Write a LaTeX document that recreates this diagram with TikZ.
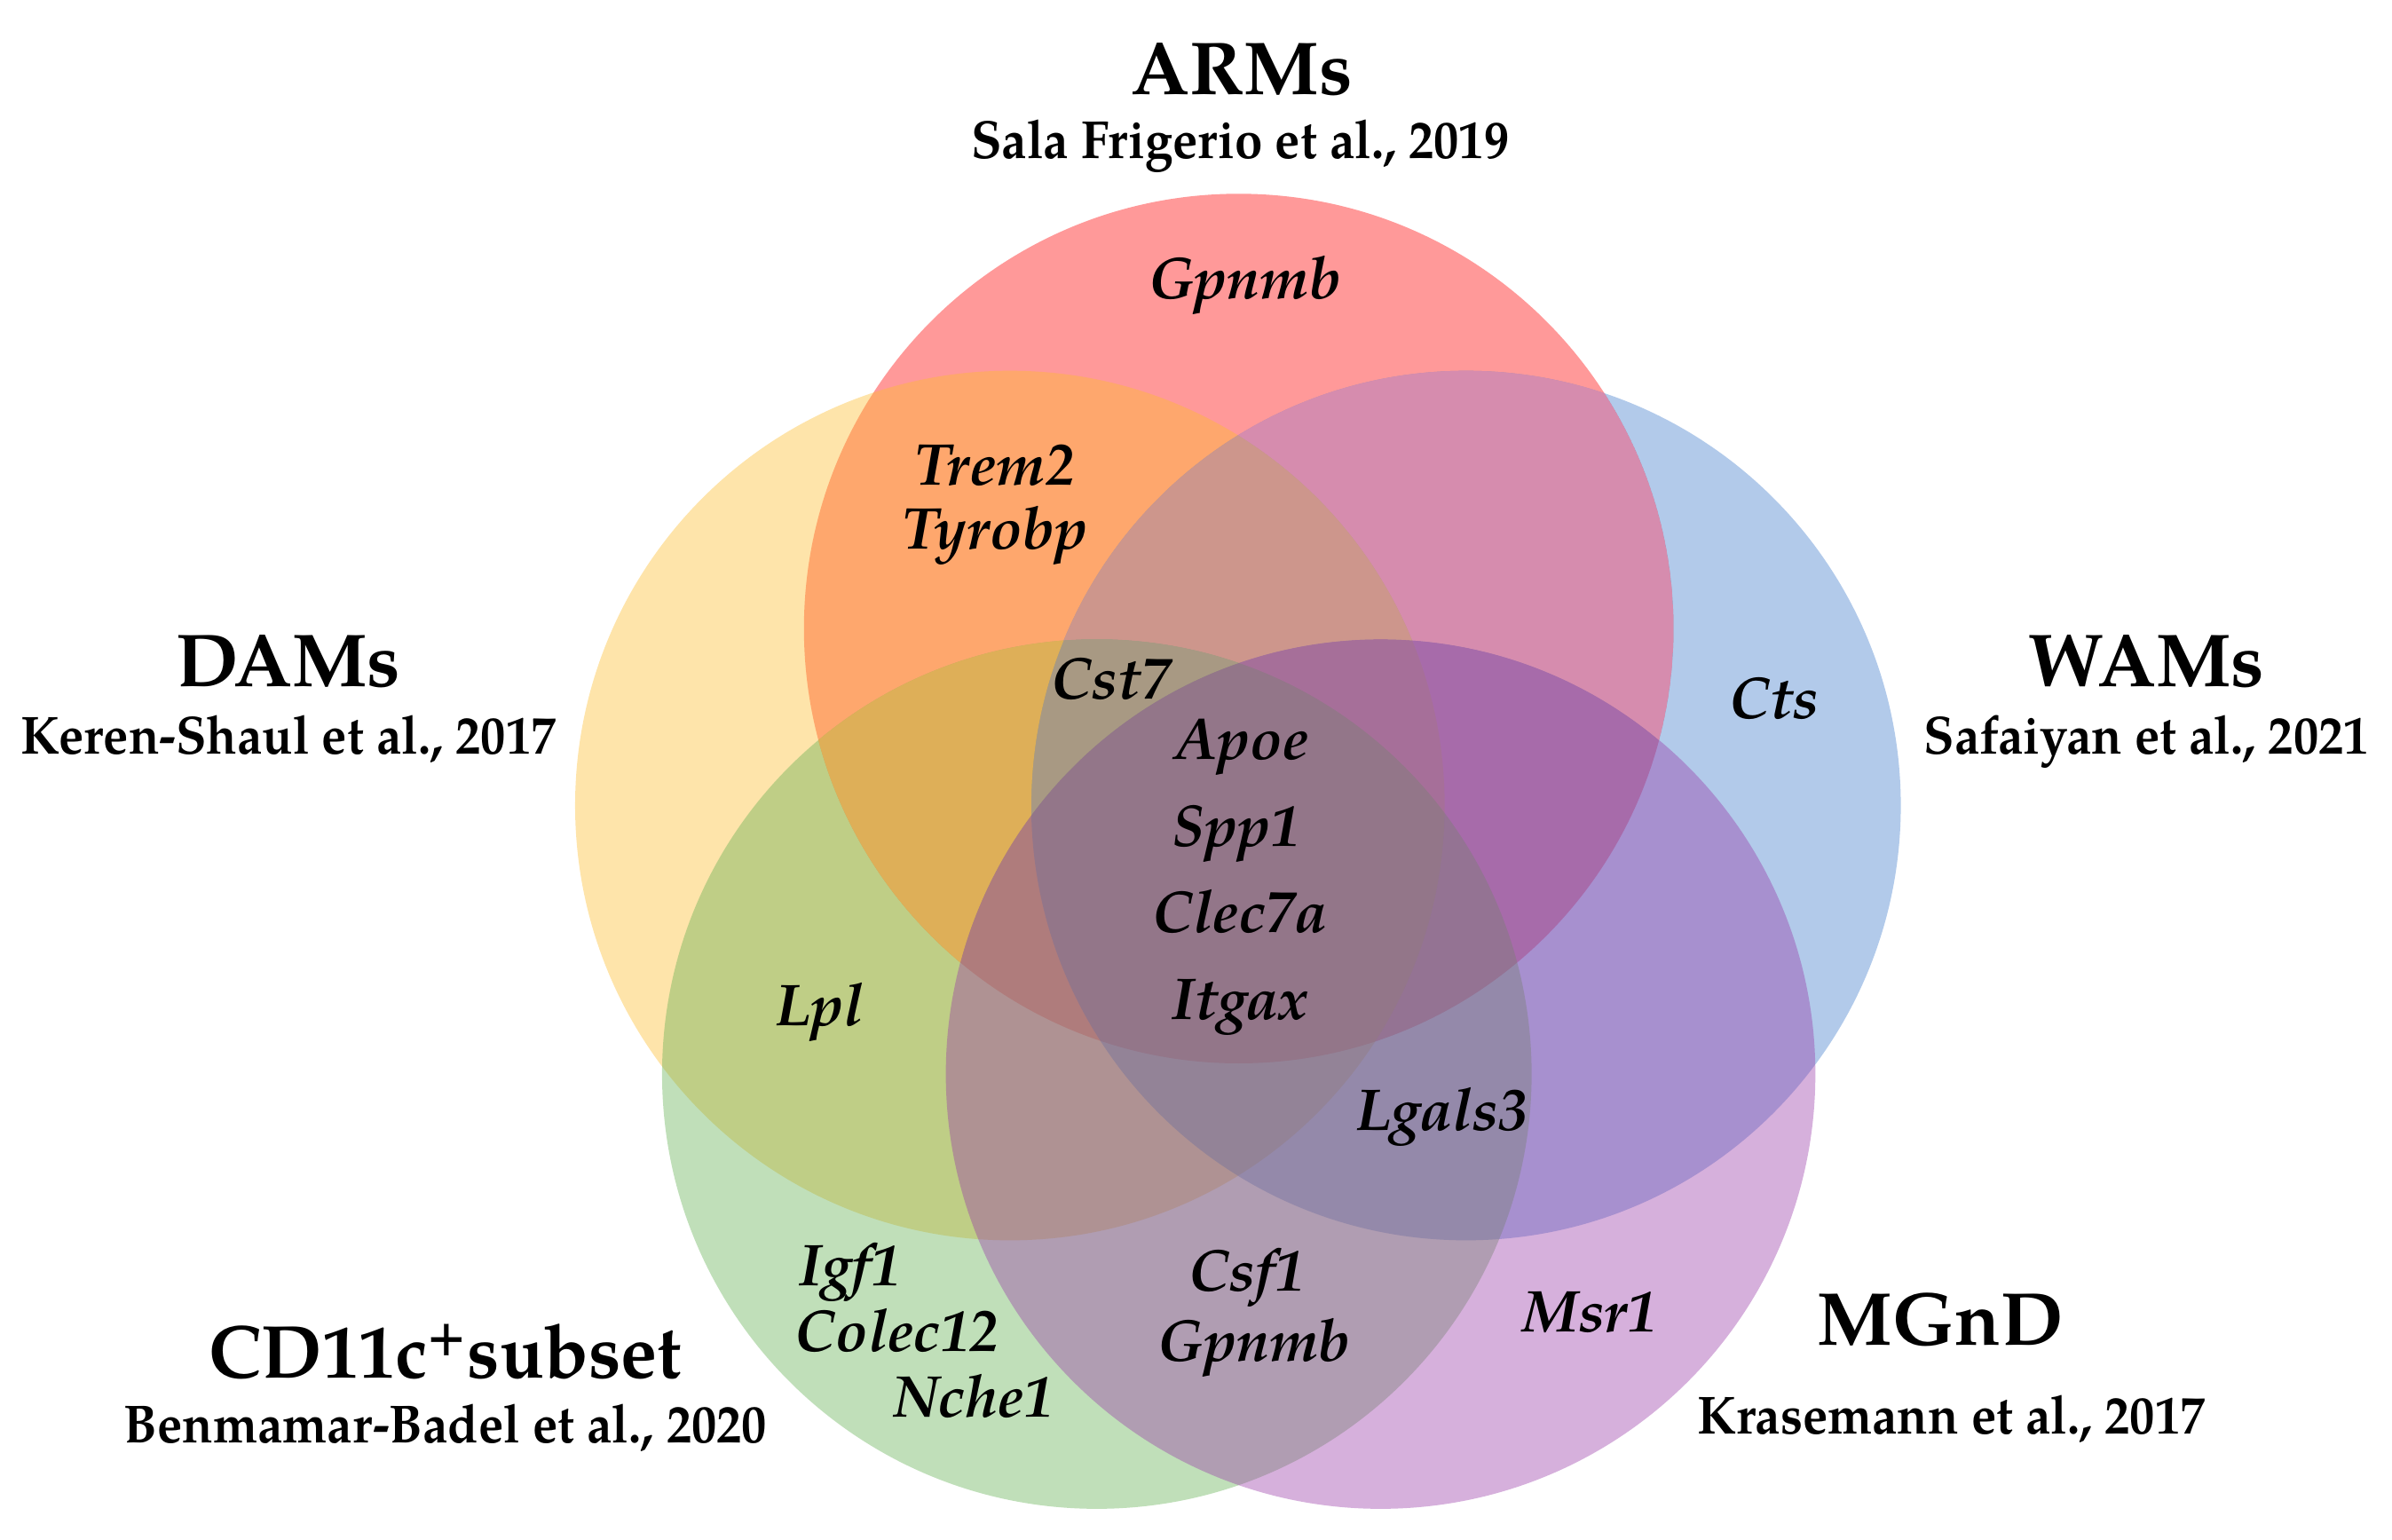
\documentclass[tikz,border=0pt]{standalone}
\usepackage{fontspec}
\setmainfont{TeX Gyre Pagella}
\definecolor{armc}{RGB}{255,0,0}
\definecolor{damc}{RGB}{252,187,42}
\definecolor{wamc}{RGB}{62,122,202}
\definecolor{cdc}{RGB}{97,175,80}
\definecolor{mgc}{RGB}{152,57,167}
\definecolor{rbc}{RGB}{214,140,174}
\definecolor{rybc}{RGB}{205,150,140}
\definecolor{rybgc}{RGB}{168,153,131}
\definecolor{rygc}{RGB}{222,175,88}
\newcommand\incirc[1]{\clip (#1) circle[radius=285];}
\newcommand\outcirc[1]{\clip (0,0) rectangle (1568,1009) (#1) circle[radius=285];}
\begin{document}
\begin{tikzpicture}[x=0.02cm,y=-0.02cm,
  setfill/.style={fill=#1, fill opacity=0.4},
  title/.style={font=\fontsize{28}{32}\selectfont\bfseries, anchor=base, inner sep=0pt},
  cite/.style={font=\fontsize{20}{24}\selectfont\bfseries, anchor=base, inner sep=0pt, xscale=0.935},
  gene/.style={font=\fontsize{22}{26}\selectfont\bfseries\itshape, anchor=base, inner sep=0pt}]
\useasboundingbox (0,0) rectangle (1568,1009);
\coordinate (cR) at (812,412);
\coordinate (cY) at (662,528);
\coordinate (cB) at (961,528);
\coordinate (cG) at (719,704);
\coordinate (cP) at (905,704);
% circles
\fill[setfill=armc] (cR) circle[radius=285];
\fill[setfill=damc] (cY) circle[radius=285];
\fill[setfill=wamc] (cB) circle[radius=285];
\fill[setfill=cdc] (cG) circle[radius=285];
\fill[setfill=mgc] (cP) circle[radius=285];
% region colour corrections
\begin{scope}[even odd rule]\incirc{cR}\incirc{cB}\outcirc{cY}\outcirc{cG}\outcirc{cP}
  \fill[rbc] (cR) circle[radius=285];\end{scope}
\begin{scope}[even odd rule]\incirc{cR}\incirc{cY}\incirc{cB}\outcirc{cG}\outcirc{cP}
  \fill[rybc] (cR) circle[radius=285];\end{scope}
\begin{scope}[even odd rule]\incirc{cR}\incirc{cY}\incirc{cB}\incirc{cG}\outcirc{cP}
  \fill[rybgc] (cR) circle[radius=285];\end{scope}
\begin{scope}[even odd rule]\incirc{cR}\incirc{cY}\incirc{cG}\outcirc{cB}\outcirc{cP}
  \fill[rygc] (cR) circle[radius=285];\end{scope}
% set titles
\node[title] (tarm) at (814,62) {ARMs};
\node[cite] (carm) at (813,104) {Sala Frigerio et al., 2019};
\node[title] (tdam) at (189,450) {DAMs};
\node[cite] (cdam) at (189,494) {Keren-Shaul et al., 2017};
\node[title] (twam) at (1407,450) {WAMs};
\node[cite] (cwam) at (1407,494) {Safaiyan et al., 2021};
\node[title, xscale=0.97] (tcd) at (292,903) {CD11c\textsuperscript{+}subset};
\node[cite] (ccd) at (292,946) {Benmamar-Badel et al., 2020};
\node[title] (tmg) at (1272,882) {MGnD};
\node[cite] (cmg) at (1279,940) {Krasemann et al., 2017};
% genes
\node[gene] (g1) at (816,196) {Gpnmb};
\node[gene] (g2) at (652,318) {Trem2};
\node[gene] (g3) at (652,360) {Tyrobp};
\node[gene] (g4) at (728,458) {Cst7};
\node[gene] (g5) at (1163,471) {Cts};
\node[gene] (g6) at (814,498) {Apoe};
\node[gene] (g7) at (810,555) {Spp1};
\node[gene] (g8) at (813,611) {Clec7a};
\node[gene] (g9) at (813,668) {Itgax};
\node[gene] (g10) at (537,672) {Lpl};
\node[gene] (g11) at (945,741) {Lgals3};
\node[gene] (g12) at (557,843) {Igf1};
\node[gene] (g13) at (588,886) {Colec12};
\node[gene] (g14) at (638,929) {Nche1};
\node[gene] (g15) at (817,846) {Csf1};
\node[gene] (g16) at (822,892) {Gpnmb};
\node[gene] (g17) at (1042,873) {Msr1};
\end{tikzpicture}
\end{document}
